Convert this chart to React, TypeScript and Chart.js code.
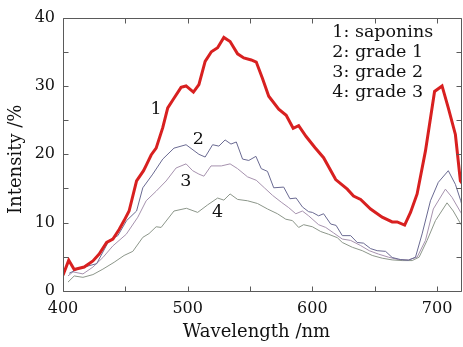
import { useEffect, useRef } from 'react';
import { Chart, registerables } from 'chart.js';

Chart.register(...registerables);

const FONT = '"DejaVu Serif", serif';

// Curve 1: saponins
const saponinsWl = [400, 404.6, 409, 417, 424, 429, 435, 440, 445, 449, 453, 459, 464.6, 467, 470.7, 474.7, 480, 484, 489, 494.7, 498.7, 504.6, 509, 514, 519, 524, 529, 534, 540, 545, 551, 555, 560, 565, 573, 579, 584.6, 589, 595, 602, 609, 618.7, 628, 633, 638.7, 646.7, 656, 664, 668, 674, 678.7, 684, 690.7, 698, 704, 709, 714.7, 718.7, 720];
const saponinsVal = [2.3, 4.5, 3.15, 3.5, 4.4, 5.4, 7.1, 7.6, 9.0, 10.3, 11.7, 16.1, 17.6, 18.5, 19.9, 20.9, 23.9, 26.8, 28.2, 29.8, 30.0, 29.1, 30.2, 33.6, 35.0, 35.6, 37.1, 36.5, 34.7, 34.1, 33.8, 33.5, 31.1, 28.5, 26.6, 25.7, 23.8, 24.2, 22.6, 21.0, 19.5, 16.3, 14.9, 13.9, 13.4, 12.0, 10.8, 10.1, 10.1, 9.65, 11.5, 14.2, 20.5, 29.2, 30.0, 26.8, 22.9, 16.1, 15.8];

// Curve 2: grade 1
const grade1Wl = [405, 413, 427, 432, 437, 444, 451, 459, 464, 472, 480, 489, 498.7, 509, 514, 520, 525, 530, 534.7, 539, 544, 549, 554.7, 559, 564, 569, 577, 582, 587, 592, 597, 600, 605, 609, 614.7, 619, 624, 630.7, 636, 641, 646.7, 652, 658.7, 664, 670.7, 677, 682.7, 688, 694.7, 701, 709, 714.7, 719, 720];
const grade1Val = [2.6, 3.3, 4.0, 5.7, 7.4, 8.1, 10.3, 11.7, 15.1, 17.1, 19.3, 20.9, 21.4, 20.0, 19.6, 21.4, 21.2, 22.1, 21.5, 21.8, 19.3, 19.1, 19.7, 17.9, 17.5, 15.1, 15.2, 13.5, 13.6, 12.3, 11.6, 11.5, 11.0, 11.3, 9.8, 9.6, 8.1, 8.1, 7.1, 7.0, 6.2, 5.9, 5.8, 4.9, 4.6, 4.5, 4.95, 8.35, 13.2, 15.9, 17.6, 15.6, 13.2, 12.5];

// Curve 3: grade 2
const grade2Wl = [404, 408, 416, 424, 432, 440, 450.7, 460, 466.7, 474.7, 482.7, 490.7, 498.7, 504, 509, 513, 518.7, 527, 534, 540, 548, 555, 561.5, 568, 575, 581, 586.7, 592, 597, 605, 610.7, 617, 624, 630.7, 638.7, 645.6, 653, 661, 669, 677, 684, 690.7, 697, 706.7, 712, 719, 720];
const grade2Val = [2.2, 2.8, 2.5, 3.5, 4.9, 6.6, 8.3, 10.8, 13.2, 14.6, 16.1, 18.0, 18.6, 17.6, 17.1, 16.8, 18.3, 18.3, 18.6, 17.9, 16.7, 16.2, 15.1, 14.0, 13.0, 12.2, 11.3, 11.7, 11.0, 9.7, 9.3, 8.5, 7.6, 7.4, 6.65, 5.9, 5.4, 4.95, 4.6, 4.55, 4.95, 7.4, 12.0, 14.9, 13.7, 11.5, 11.2];

// Curve 4: grade 3
const grade3Wl = [404, 409, 416, 424, 432, 441, 449, 456, 464, 469, 474.7, 478.7, 489, 499, 508, 516, 524, 529, 534, 540, 548, 556, 564, 572, 578.7, 584, 589, 593, 600, 606.7, 613, 620, 624, 632, 640, 648, 656, 664, 672, 680, 685.6, 692, 698.7, 708, 713, 719, 720];
const grade3Val = [1.3, 2.2, 2.0, 2.4, 3.2, 4.2, 5.2, 5.8, 7.85, 8.4, 9.4, 9.3, 11.7, 12.1, 11.5, 12.6, 13.6, 13.3, 14.2, 13.4, 13.2, 12.8, 12.0, 11.3, 10.5, 10.3, 9.3, 9.7, 9.4, 8.7, 8.3, 7.8, 7.1, 6.4, 5.9, 5.2, 4.8, 4.55, 4.45, 4.45, 4.95, 7.4, 10.3, 12.9, 11.7, 9.8, 9.5];

const xTickValues = [400, 500, 600, 700];
const yTickValues = [0, 10, 20, 30, 40];
const legendLines = ['1: saponins', '2: grade 1', '3: grade 2', '4: grade 3'];
const curveTags = ['1', '2', '3', '4'];
const tagWl = [474.7, 508.6, 498.6, 524];
const tagVal = [26.6, 22.2, 16.1, 11.5];
const xAxisTitle = 'Wavelength /nm';
const yAxisTitle = 'Intensity /%';

const toPoints = (xs: number[], ys: number[]) => xs.map((x, i) => ({ x, y: ys[i] }));

const decorPlugin = {
  id: 'decor',
  afterDraw(chart: any) {
    const { ctx, chartArea, scales } = chart;
    const { left, right, top, bottom } = chartArea;
    const xs = scales.x;
    const ys = scales.y;
    ctx.save();
    ctx.strokeStyle = '#5a5a5a';
    ctx.lineWidth = 1;
    const L = Math.round(left) + 0.5;
    const R = Math.round(right) - 0.5;
    const T = Math.round(top) + 0.5;
    const B = Math.round(bottom) + 0.5;
    ctx.beginPath();
    ctx.rect(L, T, R - L, B - T);
    ctx.stroke();
    const tl = 5;
    ctx.beginPath();
    for (let v = xs.min; v <= xs.max + 1e-6; v += 50) {
      const px = Math.round(xs.getPixelForValue(v)) + 0.5;
      ctx.moveTo(px, B);
      ctx.lineTo(px, B - tl);
      ctx.moveTo(px, T);
      ctx.lineTo(px, T + tl);
    }
    for (let v = ys.min; v <= ys.max + 1e-6; v += 5) {
      const py = Math.round(ys.getPixelForValue(v)) + 0.5;
      ctx.moveTo(L, py);
      ctx.lineTo(L + tl, py);
      ctx.moveTo(R, py);
      ctx.lineTo(R - tl, py);
    }
    ctx.stroke();

    ctx.fillStyle = '#111';
    // legend text
    ctx.font = `17.5px ${FONT}`;
    ctx.textAlign = 'left';
    ctx.textBaseline = 'middle';
    const lx = xs.getPixelForValue(616);
    const ly = ys.getPixelForValue(37.8);
    legendLines.forEach((t, i) => ctx.fillText(t, lx, ly + i * 20));
    // curve tags
    ctx.textAlign = 'center';
    curveTags.forEach((t, i) => {
      ctx.fillText(t, xs.getPixelForValue(tagWl[i]), ys.getPixelForValue(tagVal[i]));
    });
    // axis titles
    ctx.font = `18px ${FONT}`;
    ctx.textBaseline = 'alphabetic';
    ctx.fillText(xAxisTitle, (left + right) / 2 - 6, 337);
    ctx.save();
    ctx.translate(21, (top + bottom) / 2 + 5);
    ctx.rotate(-Math.PI / 2);
    ctx.fillText(yAxisTitle, 0, 0);
    ctx.restore();
    ctx.restore();
  },
};

export default function App() {
  const ref = useRef<HTMLCanvasElement | null>(null);
  useEffect(() => {
    document.body.style.margin = '0';
    const canvas = ref.current;
    if (!canvas) return;
    const chart = new Chart(canvas, {
      type: 'line',
      data: {
        datasets: [
          { label: 'saponins', data: toPoints(saponinsWl, saponinsVal), borderColor: '#d82020', borderWidth: 3, pointRadius: 0, tension: 0, fill: false },
          { label: 'grade 1', data: toPoints(grade1Wl, grade1Val), borderColor: '#6a6a92', borderWidth: 1, pointRadius: 0, tension: 0, fill: false },
          { label: 'grade 2', data: toPoints(grade2Wl, grade2Val), borderColor: '#a692ae', borderWidth: 1, pointRadius: 0, tension: 0, fill: false },
          { label: 'grade 3', data: toPoints(grade3Wl, grade3Val), borderColor: '#8c968a', borderWidth: 1, pointRadius: 0, tension: 0, fill: false },
        ],
      },
      options: {
        animation: false,
        responsive: false,
        devicePixelRatio: 1,
        layout: { padding: { top: 16, right: 1, left: 0, bottom: 0 } },
        plugins: { legend: { display: false }, tooltip: { enabled: false } },
        scales: {
          x: {
            type: 'linear',
            min: 400,
            max: 720,
            grid: { display: false, drawTicks: false },
            border: { display: false },
            afterBuildTicks: (axis: any) => { axis.ticks = xTickValues.map((value) => ({ value })); },
            ticks: {
              autoSkip: false,
              padding: 8,
              color: '#111',
              font: { family: FONT, size: 16 },
              maxRotation: 0,
            },
            afterFit: (axis: any) => { axis.height = 56; },
          },
          y: {
            min: 0,
            max: 40,
            grid: { display: false, drawTicks: false },
            border: { display: false },
            afterBuildTicks: (axis: any) => { axis.ticks = yTickValues.map((value) => ({ value })); },
            ticks: {
              autoSkip: false,
              padding: 8,
              color: '#111',
              font: { family: FONT, size: 16 },
            },
            afterFit: (axis: any) => { axis.width = 63; },
          },
        },
      },
      plugins: [decorPlugin],
    });
    return () => chart.destroy();
  }, []);
  return (
    <div style={{ width: 463, height: 347 }}>
      <canvas ref={ref} width={463} height={347} />
    </div>
  );
}
